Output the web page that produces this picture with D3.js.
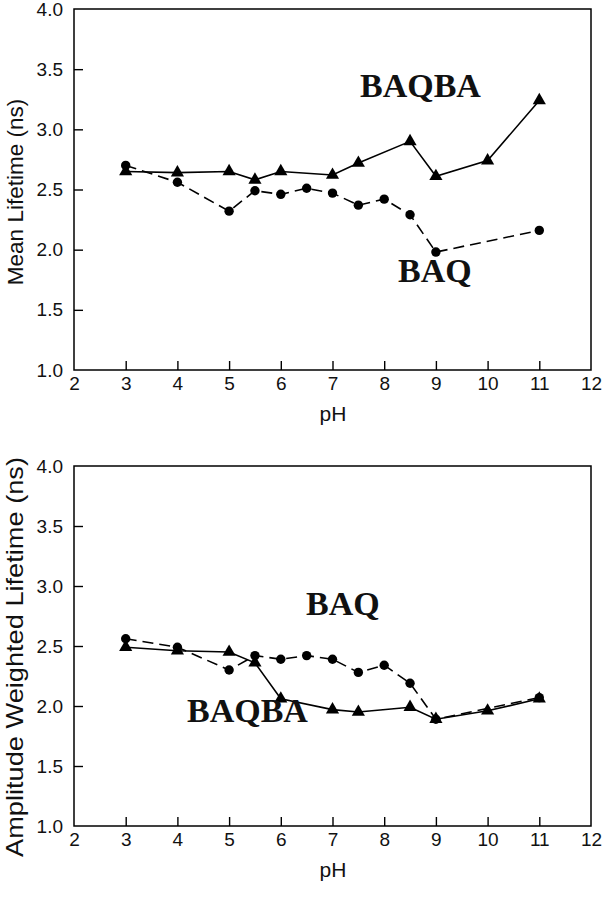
<!DOCTYPE html>
<html><head><meta charset="utf-8">
<script src="https://cdn.jsdelivr.net/npm/d3@7"></script>
<style>body{margin:0;background:#fff}svg{display:block}</style>
</head><body>
<script>
const xTicks = [2,3,4,5,6,7,8,9,10,11,12];
const yTicks = [1.0,1.5,2.0,2.5,3.0,3.5,4.0];

// Top panel: Mean Lifetime (ns)
const meanBAQBA_pH = [3,4,5,5.5,6,7,7.5,8.5,9,10,11];
const meanBAQBA    = [2.65,2.64,2.65,2.58,2.65,2.62,2.72,2.90,2.61,2.74,3.24];
const meanBAQ_pH   = [3,4,5,5.5,6,6.5,7,7.5,8,8.5,9,11];
const meanBAQ      = [2.70,2.56,2.32,2.49,2.46,2.51,2.47,2.37,2.42,2.29,1.98,2.16];

// Bottom panel: Amplitude Weighted Lifetime (ns)
const ampBAQBA_pH  = [3,4,5,5.5,6,7,7.5,8.5,9,10,11];
const ampBAQBA     = [2.49,2.46,2.45,2.36,2.06,1.97,1.95,1.99,1.89,1.96,2.06];
const ampBAQ_pH    = [3,4,5,5.5,6,6.5,7,7.5,8,8.5,9,11];
const ampBAQ       = [2.56,2.49,2.30,2.42,2.39,2.42,2.39,2.28,2.34,2.19,1.89,2.07];

const W = 602, H = 900;
const svg = d3.select("body").append("svg").attr("width", W).attr("height", H);
const SANS = "Liberation Sans, Arial, sans-serif";

function panel(cfg){
  const g = svg.append("g");
  const x = d3.scaleLinear().domain([2,12]).range([74,591]);
  const y = d3.scaleLinear().domain([1,4]).range([cfg.bottom, cfg.top]);
  // frame
  g.append("rect").attr("x",74).attr("y",cfg.top).attr("width",591-74).attr("height",cfg.bottom-cfg.top)
    .attr("fill","none").attr("stroke","#000").attr("stroke-width",1.5);
  // x axis
  const xa = g.append("g").attr("transform",`translate(0,${cfg.bottom})`)
    .call(d3.axisBottom(x).tickValues(xTicks).tickFormat(d3.format("d")).tickSize(-9).tickPadding(7));
  xa.select(".domain").remove();
  xa.selectAll("line").filter(d=>d===2||d===12).remove();
  xa.selectAll("line").attr("stroke-width",1.4);
  xa.selectAll("text").attr("font-family",SANS).attr("font-size",19).attr("fill","#111");
  // y axis
  const ya = g.append("g").attr("transform",`translate(74,0)`)
    .call(d3.axisLeft(y).tickValues(yTicks).tickFormat(d3.format(".1f")).tickSize(-9).tickPadding(11));
  ya.select(".domain").remove();
  ya.selectAll("line").filter(d=>d===1||d===4).remove();
  ya.selectAll("line").attr("stroke-width",1.4);
  ya.selectAll("text").attr("font-family",SANS).attr("font-size",19).attr("fill","#111");
  // titles
  g.append("text").attr("x",333).attr("y",cfg.bottom+51).attr("text-anchor","middle")
    .attr("font-family",SANS).attr("font-size",21).attr("fill","#111").text("pH");
  const yt = g.append("text").attr("transform",`translate(23,${cfg.ymid}) rotate(-90)`).attr("text-anchor","middle")
    .attr("font-family",SANS).attr("font-size",cfg.yfs).attr("fill","#111").text(cfg.ytitle);
  if (cfg.ylen) yt.attr("textLength",cfg.ylen).attr("lengthAdjust","spacingAndGlyphs");

  const line = d3.line().x(d=>x(d[0])).y(d=>y(d[1]));
  const dA = d3.zip(cfg.aPH, cfg.a);
  const dB = d3.zip(cfg.bPH, cfg.b);
  g.append("path").attr("d",line(dB)).attr("fill","none").attr("stroke","#000").attr("stroke-width",1.6)
    .attr("stroke-dasharray","11,6");
  g.append("path").attr("d",line(dA)).attr("fill","none").attr("stroke","#000").attr("stroke-width",1.6);
  const tri = d3.symbol().type(d3.symbolTriangle).size(75);
  g.selectAll(".tri").data(dA).join("path").attr("d",tri)
    .attr("transform",d=>`translate(${x(d[0])},${y(d[1])})`).attr("fill","#000");
  g.selectAll(".cir").data(dB).join("circle").attr("cx",d=>x(d[0])).attr("cy",d=>y(d[1])).attr("r",4.7).attr("fill","#000");
  // labels
  cfg.labels.forEach(l=>{
    g.append("text").attr("x",l.x).attr("y",l.y).attr("font-family","Liberation Serif, Times New Roman, serif")
      .attr("font-weight","bold").attr("font-size",34).attr("fill","#111").text(l.t);
  });
}

panel({top:9, bottom:370, ytitle:"Mean Lifetime (ns)", yfs:22.5, ymid:192,
  aPH:meanBAQBA_pH, a:meanBAQBA, bPH:meanBAQ_pH, b:meanBAQ,
  labels:[{t:"BAQBA",x:360,y:97},{t:"BAQ",x:398,y:282}]});
panel({top:466, bottom:826, ytitle:"Amplitude Weighted Lifetime (ns)", yfs:24, ymid:657, ylen:400,
  aPH:ampBAQBA_pH, a:ampBAQBA, bPH:ampBAQ_pH, b:ampBAQ,
  labels:[{t:"BAQ",x:306,y:615},{t:"BAQBA",x:187,y:722}]});
</script>
</body></html>
